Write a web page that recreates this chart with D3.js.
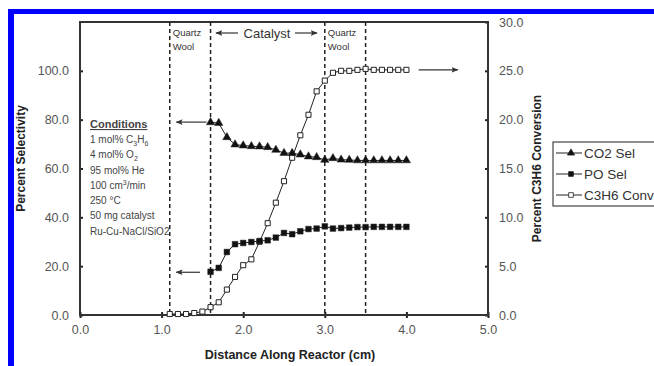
<!DOCTYPE html>
<html>
<head>
<meta charset="utf-8">
<script src="https://cdn.jsdelivr.net/npm/d3@7"></script>
<style>
  html, body { margin: 0; padding: 0; background: #fff; }
  svg { display: block; font-family: "Liberation Sans", Arial, sans-serif; }
  .tick text { fill: #555; font-size: 12.5px; }
</style>
</head>
<body>
<svg id="chart" width="654" height="366"></svg>
<script>
// ── Data ─────────────────────────────────────────────────────────
const co2X   = [1.6, 1.7, 1.8, 1.9, 2.0, 2.1, 2.2, 2.3, 2.4, 2.5, 2.6, 2.7, 2.8, 2.9,
                3.0, 3.1, 3.2, 3.3, 3.4, 3.5, 3.6, 3.7, 3.8, 3.9, 4.0];
const co2Sel = [78.9, 78.6, 72.8, 69.8, 69.4, 69.1, 69.0, 68.7, 67.6, 66.3, 66.3, 65.7, 64.9, 64.6,
                63.5, 64.2, 63.6, 63.5, 63.3, 63.3, 63.3, 63.3, 63.3, 63.3, 63.3];
const poX    = co2X;
const poSel  = [17.7, 19.3, 25.8, 29.0, 29.5, 29.9, 30.3, 30.6, 31.7, 33.6, 33.1, 34.3, 35.2, 35.4,
                36.3, 35.4, 35.6, 35.8, 36.0, 36.0, 36.1, 36.1, 36.1, 36.1, 36.1];
const convX  = [1.1, 1.2, 1.3, 1.4, 1.5, 1.6, 1.7, 1.8, 1.9, 2.0, 2.1, 2.2, 2.3, 2.4, 2.5,
                2.6, 2.7, 2.8, 2.9, 3.0, 3.1, 3.2, 3.3, 3.4, 3.5, 3.6, 3.7, 3.8, 3.9, 4.0];
const conv   = [0.1, 0.1, 0.1, 0.2, 0.35, 0.8, 1.3, 2.6, 3.9, 5.1, 5.7, 7.5, 9.4, 11.5, 13.7,
                16.1, 18.4, 20.5, 22.9, 24.0, 24.8, 25.0, 25.0, 25.1, 25.2, 25.1, 25.1, 25.1, 25.1, 25.1];

const xTicks      = [0, 1, 2, 3, 4, 5];
const yLeftTicks  = [0, 20, 40, 60, 80, 100];
const yRightTicks = [0, 5, 10, 15, 20, 25, 30];
const zoneEdges   = [1.1, 1.6, 3.0, 3.5];
const conditions  = ["1 mol% C<sub>3</sub>H<sub>6</sub>", "4 mol% O<sub>2</sub>", "95 mol% He",
                     "100 cm<sup>3</sup>/min", "250 \u00B0C", "50 mg catalyst", "Ru-Cu-NaCl/SiO2"];
const legendItems = [
  { label: "CO2 Sel",   symbol: d3.symbolTriangle, fill: "#111" },
  { label: "PO Sel",    symbol: d3.symbolSquare,   fill: "#111" },
  { label: "C3H6 Conv", symbol: d3.symbolSquare,   fill: "#fff" }
];

// ── Layout ───────────────────────────────────────────────────────
const plot = { left: 80, right: 488, top: 22, bottom: 315 };
const svg  = d3.select("#chart");

const x  = d3.scaleLinear().domain([0, 5]).range([plot.left, plot.right]);
const yL = d3.scaleLinear().domain([0, 120]).range([plot.bottom, plot.top]);
const yR = d3.scaleLinear().domain([0, 30]).range([plot.bottom, plot.top]);

// blue frame (left + top edges, rest cropped)
svg.append("rect").attr("x", 8).attr("y", 9).attr("width", 646).attr("height", 5).attr("fill", "#0000ff");
svg.append("rect").attr("x", 8).attr("y", 9).attr("width", 6).attr("height", 357).attr("fill", "#0000ff");

svg.append("defs").append("marker")
    .attr("id", "head")
    .attr("viewBox", "0 -5 10 10")
    .attr("refX", 9).attr("refY", 0)
    .attr("markerWidth", 7).attr("markerHeight", 7)
    .attr("markerUnits", "userSpaceOnUse")
    .attr("orient", "auto")
    .append("path").attr("d", "M0,-4L10,0L0,4L2,0Z").attr("fill", "#333");

// ── Axes ─────────────────────────────────────────────────────────
const fmt = d3.format(".1f");

svg.append("g")
    .attr("transform", `translate(0,${plot.bottom})`)
    .call(d3.axisBottom(x).tickValues(xTicks).tickFormat(fmt).tickSizeInner(-3).tickSizeOuter(0).tickPadding(10))
    .call(g => g.select(".domain").remove())
    .call(g => g.selectAll(".tick line").attr("stroke", "#222").attr("stroke-width", 2).attr("y1", 3));

svg.append("g")
    .attr("transform", `translate(${plot.left},0)`)
    .call(d3.axisLeft(yL).tickValues(yLeftTicks).tickFormat(fmt).tickSizeInner(3).tickSizeOuter(0).tickPadding(8))
    .call(g => g.select(".domain").remove())
    .call(g => g.selectAll(".tick line").attr("stroke", "#222").attr("stroke-width", 2).attr("x2", 3));

svg.append("g")
    .attr("transform", `translate(${plot.right},0)`)
    .call(d3.axisRight(yR).tickValues(yRightTicks).tickFormat(fmt).tickSizeInner(-3).tickSizeOuter(0).tickPadding(11))
    .call(g => g.select(".domain").remove())
    .call(g => g.selectAll(".tick line").attr("stroke", "#222").attr("stroke-width", 2));

// plot frame
svg.append("rect")
    .attr("x", plot.left).attr("y", plot.top)
    .attr("width", plot.right - plot.left).attr("height", plot.bottom - plot.top)
    .attr("fill", "none").attr("stroke", "#333").attr("stroke-width", 2);

// axis titles
svg.append("text")
    .attr("transform", `translate(25,${(plot.top + plot.bottom) / 2 - 10}) rotate(-90)`)
    .attr("text-anchor", "middle").attr("font-size", 12).attr("font-weight", "bold").attr("fill", "#222")
    .text("Percent Selectivity");
svg.append("text")
    .attr("transform", `translate(541,${(plot.top + plot.bottom) / 2}) rotate(-90)`)
    .attr("text-anchor", "middle").attr("font-size", 12).attr("font-weight", "bold").attr("fill", "#222")
    .text("Percent C3H6 Conversion");
svg.append("text")
    .attr("x", 290).attr("y", 359)
    .attr("text-anchor", "middle").attr("font-size", 12.5).attr("font-weight", "bold").attr("fill", "#222")
    .text("Distance Along Reactor (cm)");

// ── Reactor zones ────────────────────────────────────────────────
svg.append("g").selectAll("line").data(zoneEdges).join("line")
    .attr("x1", d => x(d)).attr("x2", d => x(d))
    .attr("y1", plot.top).attr("y2", plot.bottom)
    .attr("stroke", "#222").attr("stroke-width", 1.5).attr("stroke-dasharray", "4,3");

const zoneLabel = (xv, dy, txt) => svg.append("text")
    .attr("x", x(xv) + 3).attr("y", plot.top + dy)
    .attr("font-size", 9.5).attr("fill", "#333").text(txt);
zoneLabel(1.1, 14, "Quartz"); zoneLabel(1.1, 28, "Wool");
zoneLabel(3.0, 14, "Quartz"); zoneLabel(3.0, 28, "Wool");

svg.append("text")
    .attr("x", 267).attr("y", plot.top + 16)
    .attr("text-anchor", "middle").attr("font-size", 13).attr("fill", "#333")
    .text("Catalyst");

const arrow = (x1, y1, x2, y2) => svg.append("line")
    .attr("x1", x1).attr("y1", y1).attr("x2", x2).attr("y2", y2)
    .attr("stroke", "#333").attr("stroke-width", 1.2).attr("marker-end", "url(#head)");
arrow(238, 33, 216, 33);
arrow(295, 33, 317, 33);
arrow(x(1.55), yL(79), x(1.18), yL(79));
arrow(x(1.47), yL(17.5), x(1.18), yL(17.5));
arrow(x(4.15), yR(25.1), x(4.63), yR(25.1));

// ── Conditions note ──────────────────────────────────────────────
svg.append("text")
    .attr("x", 90).attr("y", 128)
    .attr("font-size", 11).attr("font-weight", "bold").attr("fill", "#444")
    .attr("text-decoration", "underline")
    .text("Conditions");
const note = svg.append("foreignObject").attr("x", 90).attr("y", 132).attr("width", 100).attr("height", 110);
note.append("xhtml:div")
    .style("font-family", "'Liberation Sans', Arial, sans-serif")
    .style("font-size", "10px").style("line-height", "15.3px").style("color", "#444")
    .html(conditions.map(c => `<div style="white-space:nowrap">${c.replace(/<sub>/g, '<sub style="font-size:7px;line-height:0">').replace(/<sup>/g, '<sup style="font-size:7px;line-height:0">')}</div>`).join(""));

// ── Series ───────────────────────────────────────────────────────
const drawSeries = (xs, ys, yScale, symbol, fill, size) => {
    const pts = xs.map((v, i) => [x(v), yScale(ys[i])]);
    svg.append("path")
        .attr("d", d3.line()(pts))
        .attr("fill", "none").attr("stroke", "#222").attr("stroke-width", 1);
    svg.append("g").selectAll("path").data(pts).join("path")
        .attr("transform", d => `translate(${d[0]},${d[1]})`)
        .attr("d", d3.symbol().type(symbol).size(size))
        .attr("fill", fill).attr("stroke", "#222").attr("stroke-width", fill === "#fff" ? 1 : 0.5);
};
drawSeries(convX, conv, yR, d3.symbolSquare, "#fff", 26);
drawSeries(co2X, co2Sel, yL, d3.symbolTriangle, "#111", 30);
drawSeries(poX, poSel, yL, d3.symbolSquare, "#111", 32);

// ── Legend ───────────────────────────────────────────────────────
const legend = svg.append("g").attr("transform", "translate(553,142)");
legend.append("rect").attr("width", 110).attr("height", 64)
    .attr("fill", "#fff").attr("stroke", "#444").attr("stroke-width", 1.2);
const rows = legend.selectAll("g").data(legendItems).join("g")
    .attr("transform", (d, i) => `translate(0,${11 + i * 21})`);
rows.append("line").attr("x1", 3).attr("x2", 29).attr("stroke", "#222").attr("stroke-width", 1);
rows.append("path")
    .attr("transform", "translate(18,0)")
    .attr("d", d => d3.symbol().type(d.symbol).size(22)())
    .attr("fill", d => d.fill).attr("stroke", "#222").attr("stroke-width", 0.8);
rows.append("text").attr("x", 31).attr("dy", "0.35em")
    .attr("font-size", 13.5).attr("fill", "#333").text(d => d.label);
</script>
</body>
</html>
